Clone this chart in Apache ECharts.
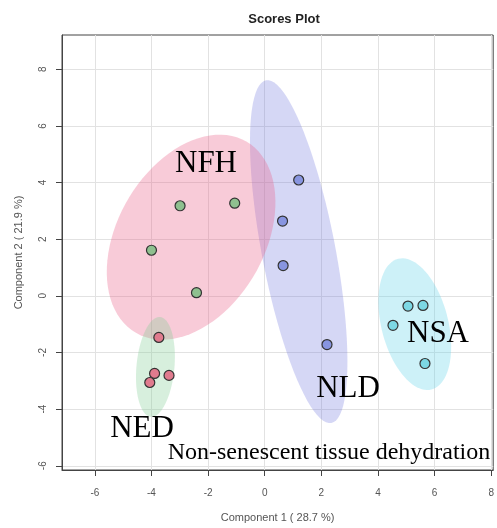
<!DOCTYPE html>
<html>
<head>
<meta charset="utf-8">
<title>Scores Plot</title>
<script src="https://cdn.jsdelivr.net/npm/echarts@6/dist/echarts.min.js"></script>
<style>
  html, body { margin: 0; padding: 0; background: #fff; }
  #main { width: 497px; height: 528px; }
</style>
</head>
<body>
<div id="main"></div>
<script>
// scores (component 1, component 2) per group
var nfhPoints = [[-2.99, 3.18], [-1.06, 3.27], [-4.0, 1.61], [-2.41, 0.11]];
var nedPoints = [[-3.74, -1.47], [-3.89, -2.74], [-3.38, -2.81], [-4.06, -3.06]];
var nldPoints = [[1.20, 4.09], [0.63, 2.64], [0.65, 1.07], [2.20, -1.72]];
var nsaPoints = [[5.06, -0.36], [5.59, -0.34], [4.53, -1.04], [5.66, -2.39]];

// confidence ellipses: [centre x, centre y, semi-major, semi-minor, angle deg]
var ellipseNames = ['NLD', 'NFH', 'NED', 'NSA'];
var ellipses = [
  [1.2, 1.56, 6.16, 1.30, 100.8],
  [-2.6, 2.07, 3.9, 2.6, 60],
  [-3.86, -2.51, 1.77, 0.67, 84.7],
  [5.30, -1.0, 2.38, 1.18, 104.3]
];

var xTicks = [-6, -4, -2, 0, 2, 4, 6, 8];
var yTicks = [-6, -4, -2, 0, 2, 4, 6, 8];

var ellipseFill = {
  NLD: 'rgba(110,118,222,0.29)',
  NFH: 'rgba(234,96,138,0.33)',
  NED: 'rgba(130,205,150,0.32)',
  NSA: 'rgba(100,212,232,0.32)'
};

var myChart = echarts.init(document.getElementById('main'));

function pointSeries(name, data, color) {
  return {
    name: name,
    type: 'scatter',
    data: data,
    symbolSize: 10,
    z: 5,
    itemStyle: { color: color, borderColor: '#333', borderWidth: 1.2, opacity: 1 }
  };
}

var annFont = '"Liberation Serif", "Times New Roman", serif';

myChart.setOption({
  animation: false,
  title: {
    text: 'Scores Plot',
    left: 279,
    top: 8,
    textAlign: 'center',
    textStyle: { fontFamily: 'Liberation Sans, Arial, sans-serif', fontSize: 13, fontWeight: 'bold', color: '#222' }
  },
  grid: {
    left: 62, top: 35, right: 1, bottom: 58,
    show: true, borderColor: '#444', borderWidth: 1, backgroundColor: 'transparent'
  },
  xAxis: {
    type: 'value',
    min: -7.16, max: 8.07,
    name: 'Component 1 ( 28.7 %)',
    nameLocation: 'middle',
    nameGap: 42,
    nameTextStyle: { fontFamily: 'Liberation Sans, Arial, sans-serif', fontSize: 11, color: '#555' },
    axisLine: { show: true, onZero: false, lineStyle: { color: '#444' } },
    axisTick: { show: true, length: 6, customValues: xTicks, lineStyle: { color: '#444' } },
    axisLabel: { customValues: xTicks, margin: 18, fontFamily: 'Liberation Sans, Arial, sans-serif', fontSize: 10, color: '#555' },
    splitLine: { show: true, lineStyle: { color: '#e2e2e2', width: 1 } }
  },
  yAxis: {
    type: 'value',
    min: -6.15, max: 9.21,
    name: 'Component 2 ( 21.9 %)',
    nameLocation: 'middle',
    nameGap: 38,
    nameTextStyle: { fontFamily: 'Liberation Sans, Arial, sans-serif', fontSize: 11, color: '#555' },
    axisLine: { show: true, onZero: false, lineStyle: { color: '#444' } },
    axisTick: { show: true, length: 6, customValues: yTicks, lineStyle: { color: '#444' } },
    axisLabel: { customValues: yTicks, rotate: 90, margin: 14, fontFamily: 'Liberation Sans, Arial, sans-serif', fontSize: 10, color: '#555' },
    splitLine: { show: true, lineStyle: { color: '#e2e2e2', width: 1 } }
  },
  series: [
    {
      type: 'custom',
      data: ellipses,
      encode: { x: 0, y: 1 },
      z: 2,
      silent: true,
      renderItem: function (params, api) {
        var cx = api.value(0), cy = api.value(1);
        var a = api.value(2), b = api.value(3);
        var th = api.value(4) * Math.PI / 180;
        var pts = [];
        for (var i = 0; i < 90; i++) {
          var t = i / 90 * Math.PI * 2;
          var x = cx + a * Math.cos(t) * Math.cos(th) - b * Math.sin(t) * Math.sin(th);
          var y = cy + a * Math.cos(t) * Math.sin(th) + b * Math.sin(t) * Math.cos(th);
          pts.push(api.coord([x, y]));
        }
        return {
          type: 'polygon',
          shape: { points: pts },
          style: { fill: ellipseFill[ellipseNames[params.dataIndex]], stroke: null }
        };
      }
    },
    pointSeries('NFH', nfhPoints, '#8fc08f'),
    pointSeries('NED', nedPoints, '#e07b8e'),
    pointSeries('NLD', nldPoints, '#8895e0'),
    pointSeries('NSA', nsaPoints, '#7dd8e4')
  ],
  graphic: [
    { type: 'text', x: 206, y: 164, style: { text: 'NFH', font: '31px ' + annFont, fill: '#000', textAlign: 'center', textVerticalAlign: 'middle' }, z: 10 },
    { type: 'text', x: 142, y: 429, style: { text: 'NED', font: '31px ' + annFont, fill: '#000', textAlign: 'center', textVerticalAlign: 'middle' }, z: 10 },
    { type: 'text', x: 348, y: 389, style: { text: 'NLD', font: '31px ' + annFont, fill: '#000', textAlign: 'center', textVerticalAlign: 'middle' }, z: 10 },
    { type: 'text', x: 438, y: 334, style: { text: 'NSA', font: '31px ' + annFont, fill: '#000', textAlign: 'center', textVerticalAlign: 'middle' }, z: 10 },
    { type: 'text', x: 329, y: 453, style: { text: 'Non-senescent tissue dehydration', font: '24px ' + annFont, fill: '#000', textAlign: 'center', textVerticalAlign: 'middle' }, z: 10 }
  ]
});
</script>
</body>
</html>
